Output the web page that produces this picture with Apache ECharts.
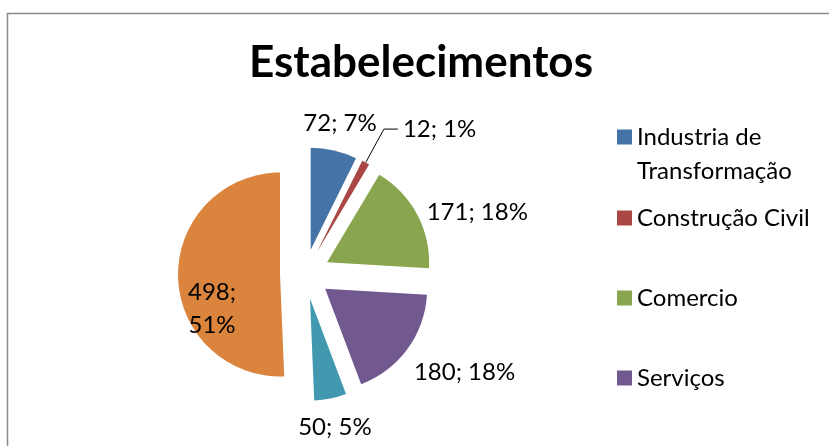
<!DOCTYPE html>
<html>
<head>
<meta charset="utf-8">
<title>Estabelecimentos</title>
<script src="https://cdn.jsdelivr.net/npm/echarts@6/dist/echarts.min.js"></script>
<style>
    html, body { margin: 0; padding: 0; background: #fff; }
    #chart { width: 829px; height: 446px; }
</style>
</head>
<body>
<div id="chart"></div>
<script>
// dados do gráfico
const setores = ["Industria de\nTransformação", "Construção Civil", "Comercio", "Serviços", "Outros", "Agropecuária"]
const estabelecimentos = [72, 12, 171, 180, 50, 498]
const cores = ["#4572A7", "#AA4643", "#89A54E", "#71588F", "#4198AF", "#DB843D"]

// ajuste de cada rótulo (comprimento da linha guia, deslocamento)
const rotulos = [
    { length: 28, length2: -42, line: false },
    { length: 38, length2: 14, line: true },
    { length: 5, length2: 0, line: false },
    { length: 38, length2: -29, line: false },
    { length: 29, length2: -43, line: false },
    { inside: true, padding: [0, 28, 0, 0] },
]

const fonte = "Lato, 'Open Sans', sans-serif"

!(function () {
    const chart = echarts.init(document.getElementById("chart"), null, { renderer: "canvas" })

    const data = estabelecimentos.map((v, i) => {
        const r = rotulos[i]
        const item = {
            name: setores[i],
            value: v,
            selected: true,
            itemStyle: { color: cores[i] },
            label: { position: r.inside ? "inside" : "outside" },
            labelLine: { show: !!r.line, length: r.length || 0, length2: r.length2 || 0 },
        }
        if (r.padding) item.label.padding = r.padding
        // rótulo interno: duas linhas vazias em cima para descer o texto
        if (r.inside) item.label.formatter = "\n\n{c};\n{d}%"
        return item
    })

    const option = {
        animation: false,
        backgroundColor: "#fff",
        title: {
            text: "Estabelecimentos",
            left: 416,
            top: 36,
            textAlign: "center",
            textStyle: { fontFamily: fonte, fontSize: 44, fontWeight: "bold", color: "#000" },
        },
        legend: [
            {
                orient: "vertical",
                left: 617,
                top: 86,
                padding: 0,
                itemWidth: 15,
                itemHeight: 15,
                icon: "rect",
                selectedMode: false,
                data: [setores[0]],
                // linha vazia em cima: a primeira linha fica alinhada com o ícone
                formatter: (name) => "\n" + name,
                textStyle: { fontFamily: fonte, fontSize: 24, lineHeight: 34, color: "#000" },
            },
            {
                orient: "vertical",
                left: 617,
                top: 201,
                padding: 0,
                itemGap: 46,
                itemWidth: 15,
                itemHeight: 15,
                icon: "rect",
                selectedMode: false,
                data: setores.slice(1),
                textStyle: { fontFamily: fonte, fontSize: 24, lineHeight: 34, color: "#000" },
            },
        ],
        graphic: [
            {
                type: "rect",
                silent: true,
                shape: { x: 7.5, y: 13.5, width: 900, height: 600 },
                style: { fill: "none", stroke: "#8a8a8a", lineWidth: 1.5 },
            },
        ],
        series: [
            {
                type: "pie",
                center: [305, 274],
                radius: 102,
                startAngle: 90,
                selectedMode: "multiple",
                selectedOffset: 25,
                avoidLabelOverlap: false,
                emphasis: { disabled: true },
                select: { itemStyle: { borderWidth: 0 } },
                label: {
                    formatter: "{c}; {d}%",
                    fontFamily: fonte,
                    fontSize: 24,
                    lineHeight: 33,
                    color: "#000",
                },
                labelLine: { lineStyle: { color: "#000", width: 1 } },
                percentPrecision: 0,
                data,
            },
        ],
    }
    chart.setOption(option)
})()
</script>
</body>
</html>
